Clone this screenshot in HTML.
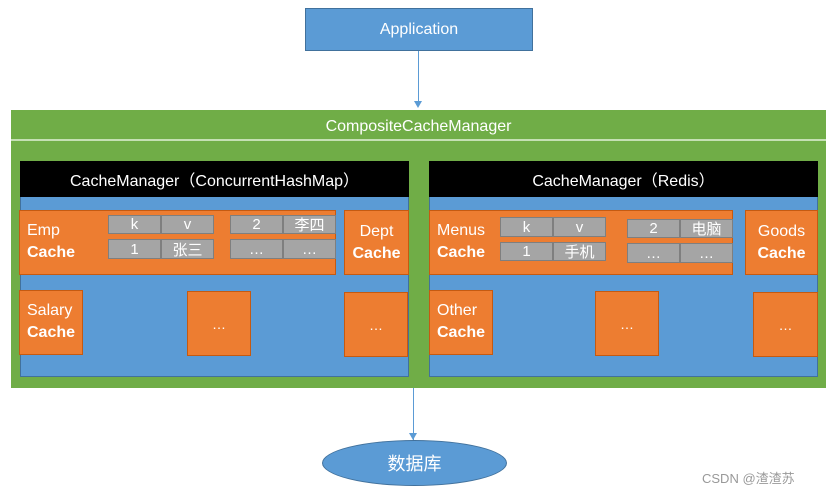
<!DOCTYPE html>
<html><head><meta charset="utf-8"><style>
body{margin:0;width:832px;height:494px;background:#fff;position:relative;overflow:hidden;font-family:"Liberation Sans","Noto Sans CJK SC",sans-serif;}
div{position:absolute;box-sizing:border-box;}
.c{display:flex;align-items:center;justify-content:center;color:#fff;text-align:center;}
.blue{background:#5b9bd5;}
.or{background:#ed7d31;border:1px solid #c55a11;}
.g{background:#a5a5a5;border:1px solid #7f7f7f;font-size:15px;}
.lbl{color:#fff;font-size:16px;line-height:22px;}
.lbl b{font-weight:bold;}
.blk{color:#fff;font-size:16px;line-height:22px;text-align:center;padding-top:10px;}
</style></head><body>
<div class="c blue" style="left:305px;top:8px;width:228px;height:43px;border:1px solid #41719c;font-size:16px;">Application</div>
<div style="left:418px;top:51px;width:1px;height:52px;background:#5b9bd5"></div>
<div style="left:414px;top:101px;width:0;height:0;border-left:4px solid transparent;border-right:4px solid transparent;border-top:7px solid #5b9bd5"></div>

<div style="left:11px;top:110px;width:815px;height:278px;background:#70ad47;"></div>
<div class="c" style="left:11px;top:112px;width:815px;height:30px;font-size:16px;">CompositeCacheManager</div>
<div style="left:11px;top:139px;width:815px;height:2px;background:#c5e0b4"></div>

<div class="blue" style="left:20px;top:161px;width:389px;height:216px;border:1px solid #41719c"></div>
<div class="c" style="left:20px;top:161px;width:389px;height:36px;background:#000;font-size:16px;">CacheManager（ConcurrentHashMap）</div>
<div class="or" style="left:19px;top:210px;width:317px;height:65px;"></div>
<div class="lbl" style="left:27px;top:220px;">Emp<br><b>Cache</b></div>
<div class="c g" style="left:108px;top:215px;width:53px;height:19px;">k</div>
<div class="c g" style="left:161px;top:215px;width:53px;height:19px;">v</div>
<div class="c g" style="left:108px;top:239px;width:53px;height:20px;">1</div>
<div class="c g" style="left:161px;top:239px;width:53px;height:20px;">张三</div>
<div class="c g" style="left:230px;top:215px;width:53px;height:19px;">2</div>
<div class="c g" style="left:283px;top:215px;width:53px;height:19px;">李四</div>
<div class="c g" style="left:230px;top:239px;width:53px;height:20px;">…</div>
<div class="c g" style="left:283px;top:239px;width:53px;height:20px;">…</div>
<div class="or blk" style="left:344px;top:210px;width:65px;height:65px;">Dept<br><b>Cache</b></div>
<div class="or" style="left:19px;top:290px;width:64px;height:65px;"></div>
<div class="lbl" style="left:27px;top:300px;">Salary<br><b>Cache</b></div>
<div class="or c" style="left:187px;top:291px;width:64px;height:65px;font-size:14px;">…</div>
<div class="or c" style="left:344px;top:292px;width:64px;height:65px;font-size:14px;">…</div>

<div class="blue" style="left:429px;top:161px;width:389px;height:216px;border:1px solid #41719c"></div>
<div class="c" style="left:429px;top:161px;width:389px;height:36px;background:#000;font-size:16px;">CacheManager（Redis）</div>
<div class="or" style="left:429px;top:210px;width:304px;height:65px;"></div>
<div class="lbl" style="left:437px;top:220px;">Menus<br><b>Cache</b></div>
<div class="c g" style="left:500px;top:217px;width:53px;height:20px;">k</div>
<div class="c g" style="left:553px;top:217px;width:53px;height:20px;">v</div>
<div class="c g" style="left:500px;top:242px;width:53px;height:19px;">1</div>
<div class="c g" style="left:553px;top:242px;width:53px;height:19px;">手机</div>
<div class="c g" style="left:627px;top:219px;width:53px;height:19px;">2</div>
<div class="c g" style="left:680px;top:219px;width:53px;height:19px;">电脑</div>
<div class="c g" style="left:627px;top:243px;width:53px;height:20px;">…</div>
<div class="c g" style="left:680px;top:243px;width:53px;height:20px;">…</div>
<div class="or blk" style="left:745px;top:210px;width:73px;height:65px;">Goods<br><b>Cache</b></div>
<div class="or" style="left:429px;top:290px;width:64px;height:65px;"></div>
<div class="lbl" style="left:437px;top:300px;">Other<br><b>Cache</b></div>
<div class="or c" style="left:595px;top:291px;width:64px;height:65px;font-size:14px;">…</div>
<div class="or c" style="left:753px;top:292px;width:65px;height:65px;font-size:14px;">…</div>

<div style="left:413px;top:388px;width:1px;height:52px;background:#5b9bd5"></div>
<div style="left:409px;top:433px;width:0;height:0;border-left:4px solid transparent;border-right:4px solid transparent;border-top:7px solid #5b9bd5"></div>
<div class="c blue" style="left:322px;top:440px;width:185px;height:46px;border-radius:50%;border:1px solid #41719c;font-size:18px;">数据库</div>
<div style="left:702px;top:468px;font-size:13px;color:#999;">CSDN @渣渣苏</div>
</body></html>
